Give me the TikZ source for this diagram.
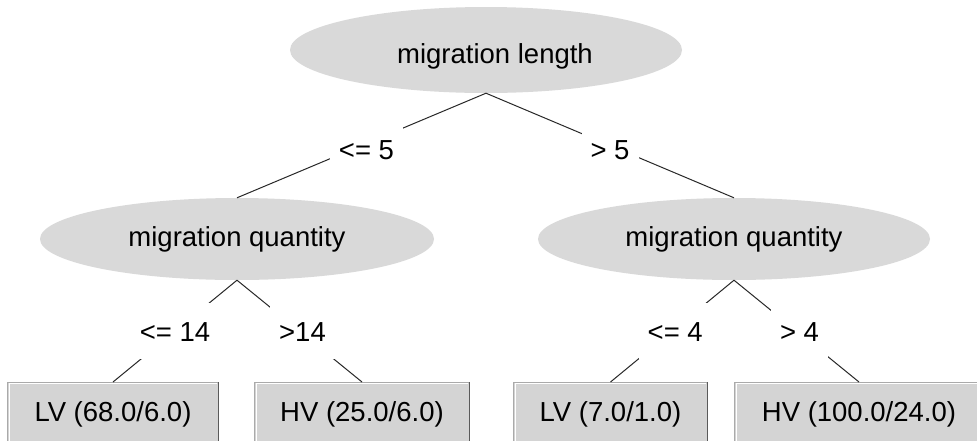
\documentclass[tikz,border=0pt]{standalone}
\usepackage{fontspec}
\setmainfont{Liberation Sans}
\usetikzlibrary{shapes.geometric}
\definecolor{ellfill}{RGB}{217,217,217}
\definecolor{boxfill}{RGB}{212,212,212}
\definecolor{boxlite}{RGB}{170,170,170}
\definecolor{boxdark}{RGB}{90,90,90}
\definecolor{edgecol}{RGB}{40,40,40}
\begin{document}
\begin{tikzpicture}[x=1pt,y=-1pt,
  every node/.style={font=\fontsize{27.5}{32}\selectfont, text=black},
  split/.style={ellipse, fill=ellfill, inner sep=0pt},
  leaf/.style={rectangle, fill=boxfill, minimum height=64pt, inner sep=0pt, anchor=north},
  edge/.style={draw=edgecol, line width=1pt},
  lbl/.style={fill=white, inner xsep=9pt, inner ysep=18pt, text height=20pt, text depth=0pt},
  litel/.style={draw=boxlite, line width=1pt},
  darkl/.style={draw=boxdark, line width=1.2pt},
]
\clip (0,0) rectangle (977,440);
\fill[white] (0,0) rectangle (977,440);

\node[split, minimum width=392pt, minimum height=86pt,
  label={[xshift=9pt,yshift=-6pt]center:migration length}] (root) at (486,50) {};
\node[split, minimum width=394pt, minimum height=82pt] (qa) at (237,239) {migration quantity};
\node[split, minimum width=392pt, minimum height=82pt] (qb) at (734,239) {migration quantity};

\node[leaf, minimum width=210pt] (lv1) at (113,382) {LV (68.0/6.0)};
\node[leaf, minimum width=214pt] (hv1) at (362,382) {HV (25.0/6.0)};
\node[leaf, minimum width=193pt] (lv2) at (610.5,382) {LV (7.0/1.0)};
\node[leaf, minimum width=248pt] (hv2) at (859,382) {HV (100.0/24.0)};

\foreach \b in {lv1,hv1,lv2,hv2}{
  \draw[litel] (\b.south west) |- (\b.north east);
  \draw[white, line width=1pt] ([shift={(1.5pt,0pt)}]\b.south west) |- ([shift={(-1.5pt,-1.5pt)}]\b.north east);
  \draw[darkl] (\b.north east) -- (\b.south east);
}

\draw[edge] (root.south) -- node[lbl, xshift=5pt, yshift=-4pt]{<= 5} (qa.north);
\draw[edge] (root.south) -- node[lbl, yshift=-4pt]{> 5} (qb.north);
\draw[edge] (qa.south) -- node[lbl]{<= 14} (lv1.north);
\draw[edge] (qa.south) -- node[lbl, xshift=3pt]{>14} (hv1.north);
\draw[edge] (qb.south) -- node[lbl, xshift=3pt]{<= 4} (lv2.north);
\draw[edge] (qb.south) -- node[lbl, xshift=3pt]{> 4} (hv2.north);
\end{tikzpicture}
\end{document}
